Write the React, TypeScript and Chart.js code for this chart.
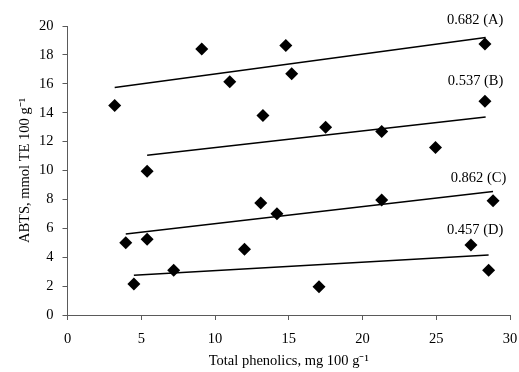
import React, { useEffect, useRef } from "react";
import { Chart, registerables } from "chart.js";

Chart.register(...registerables);

// Scatter data (x = total phenolics, y = ABTS)
const seriesA_x = [3.2, 9.1, 11.0, 14.8, 15.2, 28.3];
const seriesA_y = [14.5, 18.4, 16.15, 18.65, 16.7, 18.75];
const seriesB_x = [5.4, 13.25, 17.5, 21.3, 24.95, 28.3];
const seriesB_y = [9.95, 13.8, 13.0, 12.7, 11.6, 14.8];
const seriesC_x = [3.95, 5.4, 13.1, 14.2, 21.3, 28.85];
const seriesC_y = [5.0, 5.25, 7.75, 7.0, 7.95, 7.9];
const seriesD_x = [4.5, 7.2, 12.0, 17.05, 27.35, 28.55];
const seriesD_y = [2.15, 3.1, 4.55, 1.95, 4.85, 3.1];

// Trend lines: [start, end]
const trendA_x = [3.2, 28.35];
const trendA_y = [15.75, 19.2];
const trendB_x = [5.4, 28.35];
const trendB_y = [11.05, 13.7];
const trendC_x = [3.95, 28.85];
const trendC_y = [5.6, 8.55];
const trendD_x = [4.5, 28.55];
const trendD_y = [2.75, 4.15];

// Correlation labels
const labelTexts = ["0.682 (A)", "0.537 (B)", "0.862 (C)", "0.457 (D)"];
const labelX = [29.55, 29.55, 29.75, 29.55];
const labelY = [20.4, 16.2, 9.45, 5.9];

const xTicks = [0, 5, 10, 15, 20, 25, 30];

const FONT = "'Liberation Serif', 'Times New Roman', serif";
const FS = 14.5;
const AXIS = "#5a5a5a";

const pts = (xs: number[], ys: number[]) => xs.map((x, i) => ({ x, y: ys[i] }));

export default function App() {
  const ref = useRef<HTMLCanvasElement | null>(null);
  useEffect(() => {
    if (!ref.current) return;
    const scatter = (xs: number[], ys: number[]) => ({
      type: "scatter" as const,
      data: pts(xs, ys),
      pointStyle: "rectRot",
      pointRadius: 6.5,
      backgroundColor: "#000",
      borderColor: "#000",
      borderWidth: 0,
      showLine: false,
    });
    const trend = (xs: number[], ys: number[]) => ({
      type: "line" as const,
      data: pts(xs, ys),
      borderColor: "#000",
      borderWidth: 1.5,
      pointRadius: 0,
      fill: false,
    });
    const labelPlugin = {
      id: "corrLabels",
      afterDatasetsDraw(chart: any) {
        const ctx = chart.ctx;
        const xs = chart.scales.x;
        const ys = chart.scales.y;
        ctx.save();
        ctx.fillStyle = "#000";
        ctx.font = `${FS}px ${FONT}`;
        ctx.textAlign = "right";
        ctx.textBaseline = "middle";
        labelTexts.forEach((t, i) => {
          ctx.fillText(t, xs.getPixelForValue(labelX[i]), ys.getPixelForValue(labelY[i]));
        });
        ctx.restore();
      },
    };
    const chart = new Chart(ref.current, {
      type: "scatter",
      data: {
        datasets: [
          scatter(seriesA_x, seriesA_y),
          scatter(seriesB_x, seriesB_y),
          scatter(seriesC_x, seriesC_y),
          scatter(seriesD_x, seriesD_y),
          trend(trendA_x, trendA_y),
          trend(trendB_x, trendB_y),
          trend(trendC_x, trendC_y),
          trend(trendD_x, trendD_y),
        ] as any,
      },
      options: {
        responsive: false,
        animation: false,
        layout: { padding: { top: 26, right: 0, left: 0, bottom: 0 } },
        plugins: { legend: { display: false }, tooltip: { enabled: false } },
        scales: {
          x: {
            type: "linear",
            min: 0,
            max: 30,
            afterBuildTicks: (s: any) => {
              s.ticks = xTicks.map((v) => ({ value: v }));
            },
            afterFit: (s: any) => {
              s.height = 57;
              s.paddingRight = 9;
              s.paddingLeft = 0;
            },
            grid: { drawOnChartArea: false, drawTicks: true, tickLength: 5, color: AXIS },
            border: { display: true, color: AXIS, width: 1 },
            ticks: { color: "#000", font: { family: FONT, size: FS }, padding: 10, maxRotation: 0 },
            title: {
              display: true,
              text: "Total phenolics, mg 100 g⁻¹",
              color: "#000",
              font: { family: FONT, size: FS },
              padding: { top: 0, bottom: 2 },
            },
          },
          y: {
            type: "linear",
            min: 0,
            max: 20,
            ticks: { stepSize: 2, color: "#000", font: { family: FONT, size: FS }, padding: 9 },
            afterFit: (s: any) => {
              s.width = 67.5;
            },
            grid: { drawOnChartArea: false, drawTicks: true, tickLength: 5, color: AXIS },
            border: { display: true, color: AXIS, width: 1 },
            title: {
              display: true,
              text: "ABTS, mmol TE 100 g⁻¹",
              color: "#000",
              font: { family: FONT, size: FS },
              padding: { top: 16, bottom: 0 },
            },
          },
        },
      },
      plugins: [labelPlugin],
    });
    return () => chart.destroy();
  }, []);
  return (
    <div style={{ position: "absolute", left: 0, top: 0, width: 519, height: 372, background: "#fff" }}>
      <canvas ref={ref} width={519} height={372} />
    </div>
  );
}
